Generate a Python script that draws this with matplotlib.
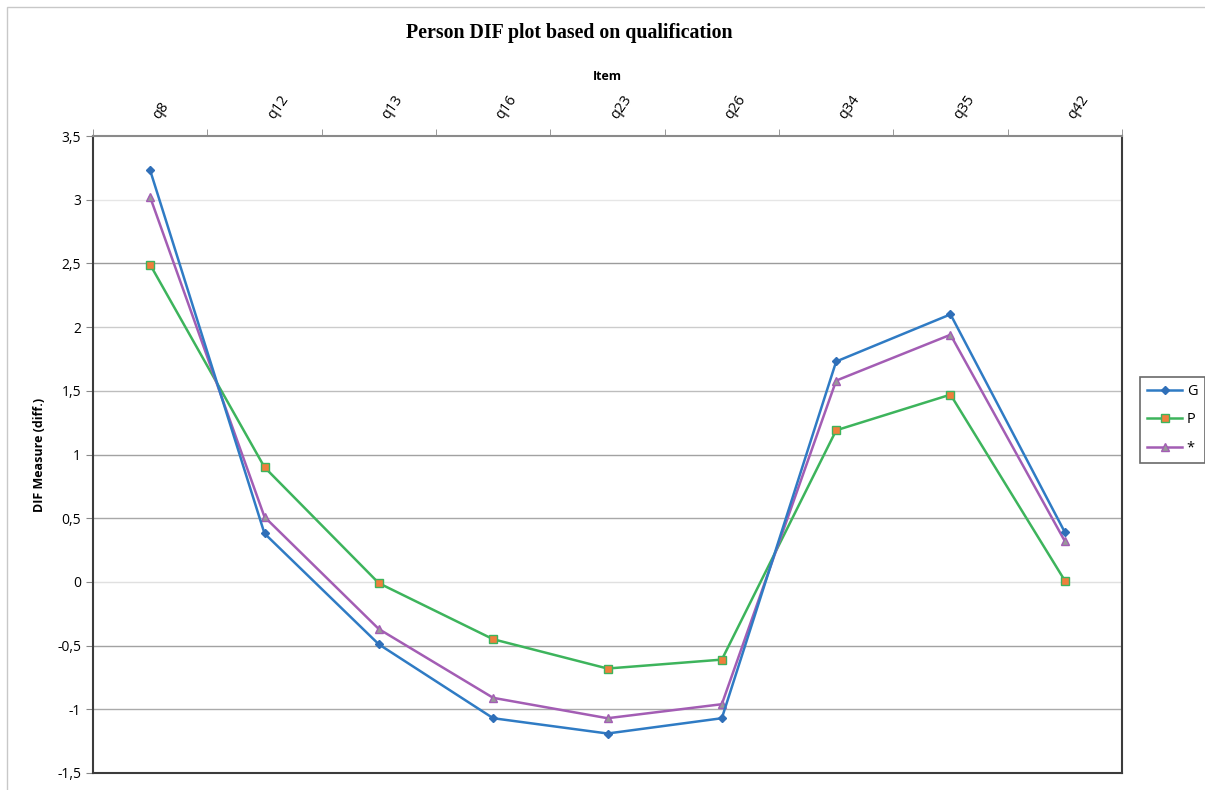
import matplotlib
matplotlib.use('Agg')
import matplotlib.pyplot as plt
from matplotlib.ticker import FixedLocator, FuncFormatter
from matplotlib.patches import Rectangle
import numpy as np

items = ['q8', 'q12', 'q13', 'q16', 'q23', 'q26', 'q34', 'q35', 'q42']
g_vals    = [3.23, 0.38, -0.49, -1.07, -1.19, -1.07, 1.73, 2.10, 0.39]
p_vals    = [2.49, 0.90, -0.01, -0.45, -0.68, -0.61, 1.19, 1.47, 0.01]
star_vals = [3.02, 0.51, -0.37, -0.91, -1.07, -0.96, 1.58, 1.94, 0.32]
y_ticks = [-1.5, -1, -0.5, 0, 0.5, 1, 1.5, 2, 2.5, 3, 3.5]

# grid shades as they appear in the picture
grid_cols = {3: '#e6e6e6', 2.5: '#9c9c9c', 2: '#cccccc', 1.5: '#bdbdbd', 1: '#a2a2a2',
             0.5: '#a8a8a8', 0: '#e0e0e0', -0.5: '#a2a2a2', -1: '#aaaaaa'}

fig = plt.figure(figsize=(12.05, 7.90), dpi=100)
ax = fig.add_axes([93/1205, 1-773/790, (1122-93)/1205, (773-136)/790])

# outer chart border (only top and left visible)
fig.patches.append(Rectangle((7/1205, -0.05), 1.1, 1.05 - 7/790, transform=fig.transFigure,
                             fill=False, edgecolor='#c8c8c8', lw=1.0))

x = np.arange(len(items))
for yv, c in grid_cols.items():
    ax.axhline(yv, color=c, lw=1.0, zorder=1)

ax.plot(x, g_vals, color='#2f7bc4', lw=1.8, marker='D', ms=4.5, mfc='#2f6fb8', mec='#2f6fb8',
        label='G', zorder=4)
ax.plot(x, p_vals, color='#3db45c', lw=1.8, marker='s', ms=5.5, mfc='#f07f3c', mec='#3db45c',
        mew=1.0, label='P', zorder=3)
ax.plot(x, star_vals, color='#a35db4', lw=1.8, marker='^', ms=6, mfc='#999999', mec='#a35db4',
        mew=1.0, label='*', zorder=3)

ax.set_xlim(-0.5, len(items) - 0.5)
ax.set_ylim(-1.5, 3.5)

ax.xaxis.tick_top()
ax.set_xticks(x)
ax.set_xticklabels(items, rotation=55, ha='left', va='bottom', rotation_mode='default',
                   fontsize=10.5, family='Open Sans')
ax.xaxis.set_minor_locator(FixedLocator(np.arange(-0.5, len(items), 1.0)))
ax.tick_params(axis='x', which='major', length=0, pad=10)
ax.tick_params(axis='x', which='minor', length=5, color='#888888', top=True, bottom=False)
fig.text(0.5 * (93 + 1122) / 1205, 1 - 77/790, 'Item', ha='center', va='center',
         fontsize=9, fontweight='bold', family='Open Sans')

ax.set_yticks(y_ticks)
ax.yaxis.set_major_formatter(FuncFormatter(lambda v, p: f'{v:g}'.replace('.', ',')))
ax.tick_params(axis='y', length=5, color='#888888', labelsize=10)
for lab in ax.get_yticklabels():
    lab.set_family('Open Sans')
ax.set_ylabel('DIF Measure (diff.)', fontsize=9, fontweight='bold', family='Open Sans', labelpad=8)

ax.spines['top'].set_color('#8a8a8a')
ax.spines['top'].set_linewidth(1.5)
for s in ['left', 'right', 'bottom']:
    ax.spines[s].set_color('#3c3c3c')
    ax.spines[s].set_linewidth(1.5)

fig.text(0.5 * (406 + 733) / 1205, 1 - 33/790, 'Person DIF plot based on qualification',
         ha='center', va='center', fontsize=14.3, fontweight='bold', family='Liberation Serif')

leg = fig.legend(loc='center left', bbox_to_anchor=(1140/1205, 1 - 420/790), fontsize=10.5,
                 frameon=True, fancybox=False, edgecolor='#444444', handlelength=2.4,
                 borderpad=0.5, labelspacing=0.9, handletextpad=0.3, borderaxespad=0)
leg.get_frame().set_linewidth(1.2)
for t in leg.get_texts():
    t.set_family('Open Sans')

fig.savefig('out.png', dpi=100)
